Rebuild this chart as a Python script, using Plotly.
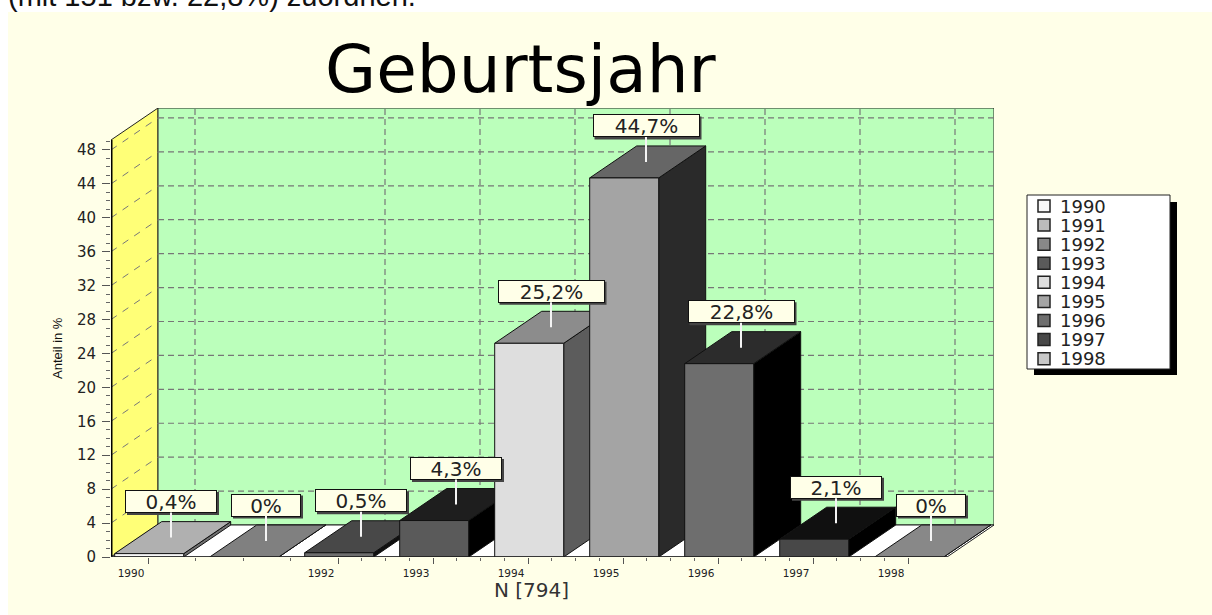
import plotly.graph_objects as go

# ---- data ----
years = [1990, 1991, 1992, 1993, 1994, 1995, 1996, 1997, 1998]
shares = [0.4, 0.0, 0.5, 4.3, 25.2, 44.7, 22.8, 2.1, 0.0]
value_labels = ["0,4%", "0%", "0,5%", "4,3%", "25,2%", "44,7%", "22,8%", "2,1%", "0%"]
x_tick_years = [1990, 1992, 1993, 1994, 1995, 1996, 1997, 1998]
y_ticks = [0, 4, 8, 12, 16, 20, 24, 28, 32, 36, 40, 44, 48]

# ---- styles ----
front_colors = ["#F8F8F8", "#BCBCBC", "#6E6E6E", "#5A5A5A", "#DEDEDE", "#A4A4A4", "#6E6E6E", "#484848", "#C8C8C8"]
legend_colors = ["#F8F8F8", "#BCBCBC", "#888888", "#5A5A5A", "#DEDEDE", "#A4A4A4", "#6E6E6E", "#484848", "#C8C8C8"]
top_colors = ["#B0B0B0", "#808080", "#484848", "#1E1E1E", "#8C8C8C", "#666666", "#2C2C2C", "#101010", "#888888"]
side_colors = ["#707070", "#404040", "#101010", "#000000", "#5C5C5C", "#2A2A2A", "#000000", "#000000", "#505050"]
CREAM, GREEN, YELLOW = "#FFFFE8", "#BBFFBB", "#FFFF77"
FONT = "DejaVu Sans"

# ---- geometry: pixel layout of the plot area ----
PL, PR, PT, PB = 111, 994, 108, 557
UX, UY = 95.0, 8.48
X0 = 1990 - (148 - PL) / UX
X1 = 1990 + (PR - 148) / UX
YMAX = (PB - PT) / UY
DX, DY = 47 / UX, 32 / UY       # depth of the 3D box in axis units
XF = X1 - DX                    # right end of front plane
YF = YMAX - DY                  # top of front plane
BAR_W = 69 / UX
BAR_OFF = 1.2 / UX
LABEL_OFF = 23 / UX


def px(x):
    return (x - PL) / (PR - PL)


def py(y):
    return (PB - y) / (PB - PT)


fig = go.Figure()


def poly(xs, ys, fill, name=None, lw=1, lc="#111111"):
    fig.add_trace(go.Scatter(x=xs + xs[:1], y=ys + ys[:1], mode="lines", fill="toself", fillcolor=fill,
                             line=dict(color=lc, width=lw), cliponaxis=False, showlegend=False,
                             name=name, hoverinfo="skip" if name is None else "name"))


def lines(xs, ys, color="#777777", width=1, dash=None):
    fig.add_trace(go.Scatter(x=xs, y=ys, mode="lines", line=dict(color=color, width=width, dash=dash),
                             cliponaxis=False, showlegend=False, hoverinfo="skip"))


# walls and floor
poly([X0, X0 + DX, X0 + DX, X0], [0, DY, YMAX, YF], YELLOW, lc="#222222")
poly([X0 + DX, X1, X1, X0 + DX], [DY, DY, YMAX, YMAX], GREEN, lc="#222222")
poly([X0, XF, X1, X0 + DX], [0, 0, DY, DY], "#FFFFFF", lc="#222222")

# grid on back and left walls
gx, gy = [], []
for v in y_ticks[1:]:
    gx += [X0 + DX, X1, None]
    gy += [v + DY, v + DY, None]
for t in x_tick_years:
    gx += [t + DX, t + DX, None]
    gy += [DY, YMAX, None]
lines(gx, gy, dash="6px,4px", width=1.2)
wx, wy = [], []
for v in y_ticks[1:]:
    wx += [X0, X0 + DX, None]
    wy += [v, v + DY, None]
lines(wx, wy, dash="7px,7px")

# bars, left to right so nearer faces overlap correctly
for i, (yr, v) in enumerate(zip(years, shares)):
    x0 = yr + BAR_OFF - BAR_W / 2
    x1 = yr + BAR_OFF + BAR_W / 2
    poly([x1, x1 + DX, x1 + DX, x1], [0, DY, v + DY, v], side_colors[i], name=str(yr))
    poly([x0, x1, x1 + DX, x0 + DX], [v, v, v + DY, v + DY], top_colors[i], name=str(yr))
    if v > 0:
        poly([x0, x1, x1, x0], [0, 0, v, v], front_colors[i], name=f"{yr}: {value_labels[i]}")

# axis lines
lines([X0, X0], [0, YF], color="#000000", width=3)
lines([X0, XF], [0, 0], color="#222222", width=1.5)

shapes = [
    dict(type="rect", xref="paper", yref="paper", x0=px(8), x1=px(1212), y0=py(12), y1=py(615),
         fillcolor=CREAM, line_width=0, layer="below"),
    # legend box with hard shadow
    dict(type="rect", xref="paper", yref="paper", x0=px(1034), x1=px(1177), y0=py(202), y1=py(375),
         fillcolor="#000000", line_width=0),
    dict(type="rect", xref="paper", yref="paper", x0=px(1027), x1=px(1170), y0=py(195), y1=py(369),
         fillcolor="#FFFFFF", line=dict(color="#222222", width=1)),
]

annotations = [
    dict(text="(mit 151 bzw. 22,8%) zuordnen.", xref="paper", yref="paper", x=px(6), y=py(14),
         xanchor="left", yanchor="bottom", showarrow=False,
         font=dict(family="Liberation Sans", size=29, color="#111111")),
    dict(text="Geburtsjahr", xref="paper", yref="paper", x=px(520), y=py(69),
         xanchor="center", yanchor="middle",
         showarrow=False, font=dict(family=FONT, size=66, color="#000000")),
    dict(text="N [794]", xref="paper", yref="paper", x=px(531), y=py(590),
         xanchor="center", yanchor="middle",
         showarrow=False, font=dict(family=FONT, size=20, color="#333333")),
    dict(text="Anteil in %", xref="paper", yref="paper", x=px(57), y=py(348), textangle=-90,
         xanchor="center", yanchor="middle",
         showarrow=False, font=dict(family="Liberation Sans", size=13, color="#111111")),
]

# value labels with callout lines
BOX_W = {2: 70, 4: 92, 5: 107}
BOX_H = 23
BOX_RISE = 36
for yr, v, lab in zip(years, shares, value_labels):
    w = BOX_W[len(lab)]
    ax_x, ax_y = yr + LABEL_OFF, v + DY / 2
    shapes.append(dict(type="rect", xref="x", yref="y", xsizemode="pixel", ysizemode="pixel",
                       xanchor=ax_x, yanchor=ax_y, x0=-w / 2 + 2, x1=w / 2 + 2,
                       y0=BOX_RISE - BOX_H / 2 - 2, y1=BOX_RISE + BOX_H / 2 - 2,
                       fillcolor="#444444", line_width=0))
    annotations.append(dict(text=lab, x=ax_x, y=ax_y, xref="x", yref="y", ax=0, ay=-BOX_RISE,
                            showarrow=True, arrowhead=0, arrowwidth=2, arrowcolor="#F4F4F4",
                            standoff=0, startstandoff=0, width=w - 2, height=BOX_H - 2,
                            bgcolor=CREAM, bordercolor="#111111", borderwidth=1, borderpad=0,
                            font=dict(family=FONT, size=20, color="#222222")))

# legend (drawn as marks so its size matches the original)
ROW = 19.08
for i, (yr, col) in enumerate(zip(years, legend_colors)):
    yc = 206 + ROW * i
    shapes.append(dict(type="rect", xref="paper", yref="paper", x0=px(1038), x1=px(1050),
                       y0=py(yc - 6), y1=py(yc + 6), fillcolor=col, line=dict(color="#222222", width=1.5)))
    annotations.append(dict(text=str(yr), xref="paper", yref="paper", x=px(1058), y=py(yc),
                            xanchor="left", yanchor="middle", showarrow=False,
                            font=dict(family=FONT, size=18, color="#222222")))

fig.update_layout(
    width=1212, height=615, autosize=False,
    margin=dict(l=PL, r=1212 - PR, t=PT, b=615 - PB, pad=0),
    paper_bgcolor="#FFFFFF", plot_bgcolor="rgba(0,0,0,0)",
    showlegend=False, shapes=shapes, annotations=annotations,
    xaxis=dict(range=[X0, X1], showgrid=False, zeroline=False, showline=False,
               tickmode="array", tickvals=x_tick_years, ticktext=[str(t) for t in x_tick_years],
               ticks="outside", ticklen=6, tickcolor="#555555", ticklabelshift=-17,
               tickfont=dict(family=FONT, size=10.5, color="#222222"),
               minor=dict(tickmode="array",
                          tickvals=[1990.5, 1991, 1991.5] + [1992 + 0.25 * k for k in range(25)],
                          ticks="outside", ticklen=3, tickcolor="#666666", showgrid=False)),
    yaxis=dict(range=[0, YMAX], showgrid=False, zeroline=False, showline=False,
               tickmode="array", tickvals=y_ticks, ticktext=[str(t) for t in y_ticks],
               ticks="outside", ticklen=8, tickcolor="#555555", ticklabelstandoff=3,
               tickfont=dict(family=FONT, size=15, color="#222222"),
               minor=dict(tickmode="array", tickvals=list(range(0, 50)),
                          ticks="outside", ticklen=4, tickcolor="#666666", showgrid=False)),
)

fig.write_html("out.html", config={"displayModeBar": False},
               post_script="document.body.style.margin='0';document.documentElement.style.overflow='hidden';")
